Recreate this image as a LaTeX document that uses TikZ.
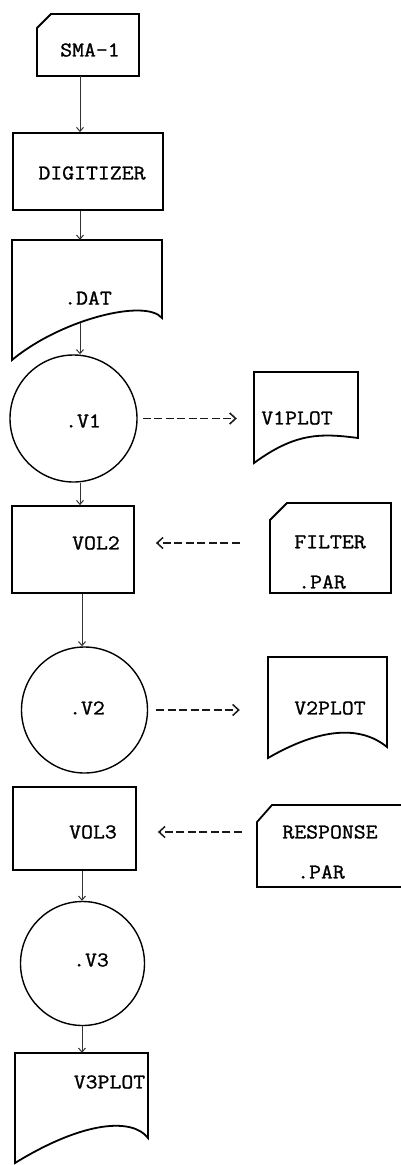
\documentclass[tikz,border=0pt]{standalone}
\usepackage{fontspec}
\newfontfamily\tw{Latin Modern Mono}[FakeBold=1.2, FakeStretch=1.1]
\usetikzlibrary{arrows.meta,calc}
\begin{document}
\begin{tikzpicture}[x=1pt,y=-1pt,
  shp/.style={draw, line width=1.8pt, line join=miter},
  area/.style 2 args={draw=none, inner sep=0pt, minimum width=#1, minimum height=#2},
  box/.style 2 args={draw, line width=1.8pt, inner sep=0pt, minimum width=#1, minimum height=#2},
  circ/.style={draw, circle, line width=1.4pt, inner sep=0pt, minimum size=#1},
  lbl/.style={font=\fontsize{21}{25}\selectfont\tw, inner sep=0pt},
  flow/.style={draw=black!80, line width=1pt, -{Straight Barb[length=4pt,width=7pt]}},
  dflow/.style={draw=black!90, line width=1.8pt, dash pattern=on 8pt off 3.5pt, -{Straight Barb[length=6pt,width=11pt,line width=1.5pt]}},
]
\fill[white] (0,0) rectangle (401,1165);
\useasboundingbox (0,0) rectangle (401,1165);
\coordinate (c80) at (80,0);
\coordinate (c82) at (82,0);

% SMA-1 card
\draw[shp] (37,28) -- (51,14) -- (139,14) -- (139,76) -- (37,76) -- cycle;
\node[area={102pt}{62pt}] (sma) at (88,45) {};
\node[lbl] (t-sma) at (90,50) {SMA-1};

% DIGITIZER
\node[box={150pt}{77pt}] (dig) at (88,171.5) {};
\node[lbl] (t-dig) at (92,173) {DIGITIZER};

% .DAT document
\draw[shp] (12,240) -- (162,240) -- (162,318) .. controls (145,298) and (60,320) .. (12,360) -- cycle;
\node[area={150pt}{120pt}] (dat) at (87,300) {};
\node[lbl] (t-dat) at (88,298) {.DAT};
\coordinate (datb) at (80,323);

% .V1
\node[circ=127pt] (v1) at (73.5,418.5) {};
\node[lbl] (t-v1) at (83,421) {.V1};

% V1PLOT
\draw[shp] (254,372) -- (358,372) -- (358,438) .. controls (320,433) and (295,433) .. (254,463) -- cycle;
\node[area={104pt}{91pt}] (v1plot) at (306,417.5) {};
\node[lbl] (t-v1plot) at (297,418) {V1PLOT};

% VOL2
\node[box={122pt}{87pt}] (vol2) at (73,549.5) {};
\node[lbl] (t-vol2) at (96,543) {VOL2};

% FILTER .PAR card
\draw[shp] (270,520) -- (287,503) -- (391,503) -- (391,593) -- (270,593) -- cycle;
\node[area={121pt}{90pt}] (filter) at (330.5,548) {};
\node[lbl] (t-filter) at (330,542) {FILTER};
\node[lbl] (t-fpar) at (322,582) {.PAR};

% .V2
\node[circ=126pt] (v2) at (84.5,710) {};
\node[lbl] (t-v2) at (87,708) {.V2};

% V2PLOT
\draw[shp] (268,657) -- (387,657) -- (387,747) .. controls (360,725) and (320,728) .. (268,758) -- cycle;
\node[area={119pt}{101pt}] (v2plot) at (327.5,707.5) {};
\node[lbl] (t-v2plot) at (330,708) {V2PLOT};

% VOL3
\node[box={123pt}{83pt}] (vol3) at (74.5,828.5) {};
\node[lbl] (t-vol3) at (93,832) {VOL3};

% RESPONSE .PAR card
\draw[shp] (257,822) -- (272,805) -- (405,805) -- (405,887) -- (257,887) -- cycle;
\node[area={148pt}{82pt}] (resp) at (331,846) {};
\node[lbl] (t-resp) at (330,832) {RESPONSE};
\node[lbl] (t-rpar) at (321,872) {.PAR};

% .V3
\node[circ=124pt] (v3) at (82.5,963.5) {};
\node[lbl] (t-v3) at (91,960) {.V3};

% V3PLOT
\draw[shp] (15,1053) -- (148,1053) -- (148,1138) .. controls (133,1118) and (85,1120) .. (15,1163) -- cycle;
\node[area={133pt}{110pt}] (v3plot) at (81.5,1108) {};
\node[lbl] (t-v3plot) at (109.5,1082) {V3PLOT};

% vertical flow
\draw[flow] (sma.south -| c80) -- (dig.north -| c80);
\draw[flow] (dig.south -| c80) -- (dat.north -| c80);
\draw[flow] (datb) -- (v1.north -| c80);
\draw[flow] (v1.south -| c80) -- (vol2.north -| c80);
\draw[flow] (vol2.south -| c82) -- (v2.north -| c82);
\draw[flow] (vol3.south -| c82) -- (v3.north -| c82);
\draw[flow] (v3.south -| c82) -- (v3plot.north -| c82);

% dashed side flows
\draw[dflow, shorten <=5pt, shorten >=17pt] (v1.east) -- (v1.east -| v1plot.west);
\draw[dflow, shorten <=30pt, shorten >=21pt] (filter.west |- t-vol2) -- (vol2.east |- t-vol2);
\draw[dflow, shorten <=8pt, shorten >=28pt] (v2.east) -- (v2.east -| v2plot.west);
\draw[dflow, shorten <=15pt, shorten >=21pt] (resp.west |- t-vol3) -- (vol3.east |- t-vol3);
\end{tikzpicture}
\end{document}
